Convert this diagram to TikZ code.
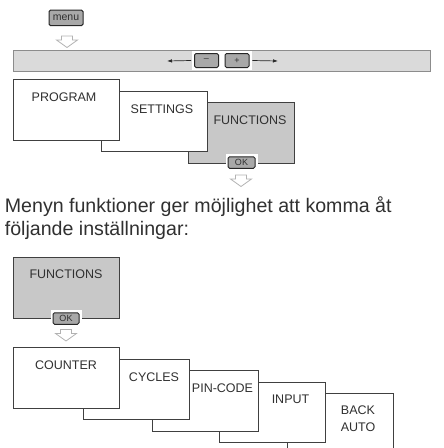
\documentclass[tikz,border=0pt]{standalone}
\usepackage{fontspec}
\setmainfont{Liberation Sans}
\usetikzlibrary{arrows.meta}

\definecolor{shade}{HTML}{C8C8C8}
\definecolor{barfill}{HTML}{DADADA}
\definecolor{keyfill}{HTML}{A8A8A8}
\definecolor{ink}{HTML}{303030}

% hollow arrow pointing down, #1 = top centre
\newcommand{\hollowdown}[1]{%
	\draw[hollow arrow] (#1) ++(-5.5,0) -- ++(11,0) -- ++(0,4) -- ++(5,0)
		-- ++(-10.5,7.5) -- ++(-10.5,-7.5) -- ++(5,0) -- cycle;
}

\begin{document}
\begin{tikzpicture}[
		x=1pt, y=-1pt,
		line width=0.8pt,
		every node/.style={text=ink, inner sep=0pt},
		menubox/.style={draw=black!75, fill=white, anchor=north west, minimum width=106pt, minimum height=60.5pt},
		boxtext/.style={font=\fontsize{12.5}{15}\selectfont, align=center},
		button/.style={draw=black!85, fill=keyfill, rounded corners=1.5pt, line width=1pt, font=\fontsize{10.5}{11}\selectfont},
		halo/.style={fill=white},
		slidebar/.style={draw=black!45, fill=barfill, minimum width=417pt, minimum height=21pt},
		slide/.style={draw=black!85, line width=0.7pt, -{Latex[length=5pt, width=3.5pt]}},
		hollow arrow/.style={draw=black!30, fill=white, line width=0.8pt, line join=miter},
		intro/.style={anchor=base west, font=\fontsize{19.6}{23}\selectfont}
		]
	
	\useasboundingbox (0,0) rectangle (444,448);
	\clip (0,0) rectangle (444,448);
	
	% Menu key and slide bar
	\node[button, minimum width=34pt, minimum height=15.5pt] (menu) at (66,17.8) {menu};
	\hollowdown{67,36}
	
	\node[slidebar] (bar) at (221.5,60.5) {};
	\node[halo, minimum width=30pt, minimum height=19pt] (minusHalo) at (206.5,60.5) {};
	\node[halo, minimum width=30pt, minimum height=19pt] (plusHalo) at (237,60.5) {};
	\node[button, minimum width=24pt, minimum height=14pt, font=\fontsize{9}{9}\selectfont] (minus) at (206.5,60.5) {--};
	\node[button, minimum width=24pt, minimum height=14pt, font=\fontsize{9}{9}\selectfont] (plus) at (237,60.5) {+};
	\coordinate (leftEnd) at (167,61);
	\coordinate (rightEnd) at (278,61);
	\draw[slide] (minusHalo.west) -- (leftEnd);
	\draw[slide] (plusHalo.east) -- (rightEnd);
	
	% Main menus (back to front)
	\node[menubox, fill=shade] (functions) at (188,102) {};
	\node[menubox] (settings) at (100.5,90.5) {};
	\node[menubox] (program) at (13,79) {};
	\node[boxtext] (programText) at (64,97.5) {PROGRAM};
	\node[boxtext] (settingsText) at (162,109) {SETTINGS};
	\node[boxtext] (functionsText) at (250,120) {FUNCTIONS};
	
	\node[halo, minimum width=32pt, minimum height=17pt] (okHaloA) at (241.5,162.5) {};
	\node[button, minimum width=27pt, minimum height=11.5pt, font=\fontsize{9}{9}\selectfont] (okA) at (241.5,162.5) {OK};
	\hollowdown{241,175}
	
	% Text
	\node[intro] (introA) at (4.5,212) {Menyn funktioner ger möjlighet att komma åt};
	\node[intro] (introB) at (4.5,235) {följande inställningar:};
	
	% Functions menu
	\node[menubox, fill=shade] (functionsB) at (13,257) {};
	\node[boxtext] (functionsBText) at (66,274.5) {FUNCTIONS};
	\node[halo, minimum width=31pt, minimum height=17pt] (okHaloB) at (66,318.5) {};
	\node[button, minimum width=26pt, minimum height=11.5pt, font=\fontsize{9}{9}\selectfont] (okB) at (66,318.5) {OK};
	\hollowdown{66,329.5}
	
	% Sub menus (back to front)
	\node[menubox] (backauto) at (286.5,393) {};
	\node[menubox] (input) at (219,381.5) {};
	\node[menubox] (pincode) at (151.5,370) {};
	\node[menubox] (cycles) at (82.5,358.5) {};
	\node[menubox] (counter) at (13,347) {};
	\node[boxtext] (counterText) at (66,365) {COUNTER};
	\node[boxtext] (cyclesText) at (154,377) {CYCLES};
	\node[boxtext] (pincodeText) at (222.5,388.5) {PIN-CODE};
	\node[boxtext] (inputText) at (290.5,399.5) {INPUT};
	\node[boxtext] (backautoText) at (358,419) {BACK\\[2pt]AUTO};

\end{tikzpicture}
\end{document}
